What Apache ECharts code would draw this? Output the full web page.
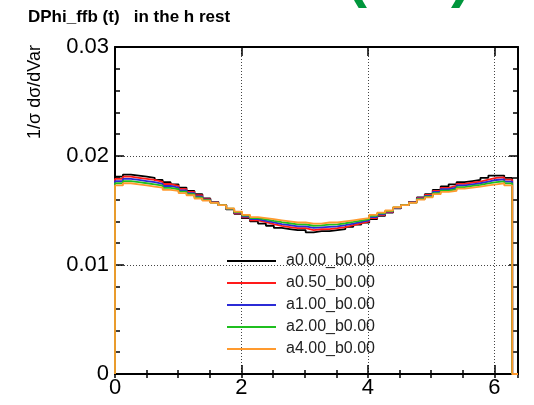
<!DOCTYPE html>
<html>
<head>
<meta charset="utf-8">
<script src="https://cdn.jsdelivr.net/npm/echarts@6/dist/echarts.min.js"></script>
<style>
  html, body { margin: 0; padding: 0; background: #fff; }
  #chart { width: 534px; height: 405px; }
</style>
</head>
<body>
<div id="chart"></div>
<script>
// histogram: 50 bins over 0..2pi
const nBins = 50;
const seriesNames = ['a0.00_b0.00', 'a0.50_b0.00', 'a1.00_b0.00', 'a2.00_b0.00', 'a4.00_b0.00'];
const seriesColors = ['#000000', '#ff1a1a', '#2b2bd6', '#1fbf1f', '#ff9a2e'];

const a000 = [0.0181,0.0183,0.0182,0.0181,0.0180,0.0178,0.0176,0.0174,0.0171,0.0168,
              0.0165,0.0161,0.0158,0.0155,0.0151,0.0147,0.0143,0.0140,0.0138,0.0136,
              0.0134,0.0133,0.0132,0.0132,0.0130,0.0131,0.0131,0.0132,0.0133,0.0135,
              0.0137,0.0139,0.0142,0.0145,0.0148,0.0152,0.0155,0.0158,0.0162,0.0165,
              0.0169,0.0172,0.0174,0.0176,0.0177,0.0178,0.0180,0.0182,0.0182,0.0180];
const a050 = [0.01790,0.01810,0.01800,0.01790,0.01780,0.01763,0.01743,0.01725,0.01698,0.01670,
              0.01640,0.01605,0.01578,0.01550,0.01513,0.01475,0.01438,0.01410,0.01393,0.01375,
              0.01358,0.01348,0.01338,0.01338,0.01320,0.01328,0.01330,0.01338,0.01348,0.01365,
              0.01383,0.01400,0.01430,0.01458,0.01485,0.01523,0.01550,0.01578,0.01615,0.01643,
              0.01680,0.01708,0.01725,0.01745,0.01755,0.01765,0.01783,0.01800,0.01803,0.01783];
const a100 = [0.01770,0.01790,0.01780,0.01770,0.01760,0.01745,0.01725,0.01710,0.01685,0.01660,
              0.01630,0.01600,0.01575,0.01550,0.01515,0.01480,0.01445,0.01420,0.01405,0.01390,
              0.01375,0.01365,0.01355,0.01355,0.01340,0.01345,0.01350,0.01355,0.01365,0.01380,
              0.01395,0.01410,0.01440,0.01465,0.01490,0.01525,0.01550,0.01575,0.01610,0.01635,
              0.01670,0.01695,0.01710,0.01730,0.01740,0.01750,0.01765,0.01780,0.01785,0.01765];
const a200 = [0.01750,0.01770,0.01760,0.01750,0.01740,0.01728,0.01708,0.01695,0.01673,0.01650,
              0.01620,0.01595,0.01573,0.01550,0.01518,0.01485,0.01453,0.01430,0.01418,0.01405,
              0.01393,0.01383,0.01373,0.01373,0.01360,0.01363,0.01370,0.01373,0.01383,0.01395,
              0.01408,0.01420,0.01450,0.01473,0.01495,0.01528,0.01550,0.01573,0.01605,0.01628,
              0.01660,0.01683,0.01695,0.01715,0.01725,0.01735,0.01748,0.01760,0.01768,0.01748];
const a400 = [0.0173,0.0175,0.0174,0.0173,0.0172,0.0171,0.0169,0.0168,0.0166,0.0164,
              0.0161,0.0159,0.0157,0.0155,0.0152,0.0149,0.0146,0.0144,0.0143,0.0142,
              0.0141,0.0140,0.0139,0.0139,0.0138,0.0138,0.0139,0.0139,0.0140,0.0141,
              0.0142,0.0143,0.0146,0.0148,0.0150,0.0153,0.0155,0.0157,0.0160,0.0162,
              0.0165,0.0167,0.0168,0.0170,0.0171,0.0172,0.0173,0.0174,0.0175,0.0173];

const xTickValues = [0, 2, 4, 6];
const xTickLabels = ['0', '2', '4', '6'];
const yTickValues = [0, 0.01, 0.02, 0.03];
const yTickLabels = ['0', '0.01', '0.02', '0.03'];

const X_MAX = 6.375;
const binW = 2 * Math.PI / nBins;
const FONT = '"Liberation Sans", Arial, Helvetica, sans-serif';

function histPoints(vals) {
  const pts = [[0, 0]];
  vals.forEach((v, i) => pts.push([i * binW, v]));
  pts.push([nBins * binW, 0]);
  pts.push([X_MAX, 0]);
  return pts;
}

function pickLabel(values, labels) {
  return function (v) {
    for (let i = 0; i < values.length; i++) {
      if (Math.abs(values[i] - v) < 1e-9) return labels[i];
    }
    return '';
  };
}

const frame = { show: true, onZero: false, lineStyle: { color: '#000', width: 2 } };
const tickStyle = { color: '#000', width: 1.5 };
const dotted = { show: true, lineStyle: { color: '#444', width: 1, type: [1, 2] } };

const allData = [a000, a050, a100, a200, a400];

const option = {
  animation: false,
  backgroundColor: '#fff',
  grid: { left: 115, right: 16, top: 47, bottom: 31 },
  legend: {
    orient: 'vertical',
    left: 227,
    top: 253,
    padding: 0,
    icon: 'rect',
    itemWidth: 49,
    itemHeight: 2,
    itemGap: 6,
    textStyle: { fontSize: 16, color: '#222', fontFamily: FONT, padding: [0, 0, 0, 5] },
    data: seriesNames
  },
  graphic: [
    { type: 'text', left: 28, top: 9,
      style: { text: 'DPhi_ffb (t)   in the h rest', fontSize: 17, fontWeight: 'bold', fill: '#000', font: 'bold 17px ' + FONT } },
    { type: 'text', x: 35, y: 92, rotation: Math.PI / 2,
      style: { text: '1/σ dσ/dVar', font: '18px ' + FONT, fill: '#000', align: 'center', verticalAlign: 'middle' } },
    { type: 'text', x: 357, y: -21,
      style: { text: '(', font: 'bold 60px ' + FONT, fill: '#00963c', align: 'center', verticalAlign: 'middle' } },
    { type: 'text', x: 461, y: -21,
      style: { text: ')', font: 'bold 60px ' + FONT, fill: '#00963c', align: 'center', verticalAlign: 'middle' } }
  ],
  xAxis: [
    { type: 'value', position: 'bottom', min: 0, max: X_MAX, interval: 2,
      axisLine: frame,
      axisTick: { inside: true, length: 9, lineStyle: tickStyle },
      axisLabel: { formatter: pickLabel(xTickValues, xTickLabels), fontSize: 22, color: '#000', fontFamily: FONT, margin: 3, showMaxLabel: false },
      splitLine: dotted },
    { type: 'value', position: 'bottom', min: 0, max: X_MAX, interval: 0.5,
      axisLine: { show: false }, axisLabel: { show: false }, splitLine: { show: false },
      axisTick: { inside: true, length: 4, lineStyle: tickStyle } },
    { type: 'value', position: 'top', min: 0, max: X_MAX, interval: 2,
      axisLine: frame, axisLabel: { show: false }, splitLine: { show: false },
      axisTick: { inside: true, length: 9, lineStyle: tickStyle } },
    { type: 'value', position: 'top', min: 0, max: X_MAX, interval: 0.5,
      axisLine: { show: false }, axisLabel: { show: false }, splitLine: { show: false },
      axisTick: { inside: true, length: 4, lineStyle: tickStyle } }
  ],
  yAxis: [
    { type: 'value', position: 'left', min: 0, max: 0.03, interval: 0.01,
      axisLine: frame,
      axisTick: { inside: true, length: 9, lineStyle: tickStyle },
      minorTick: { show: true, splitNumber: 5, length: 5, lineStyle: tickStyle },
      axisLabel: { formatter: pickLabel(yTickValues, yTickLabels), fontSize: 22, color: '#000', fontFamily: FONT, margin: 6 },
      splitLine: dotted },
    { type: 'value', position: 'right', min: 0, max: 0.03, interval: 0.01,
      axisLine: frame,
      axisTick: { inside: true, length: 9, lineStyle: tickStyle },
      minorTick: { show: true, splitNumber: 5, length: 5, lineStyle: tickStyle },
      axisLabel: { show: false },
      splitLine: { show: false } }
  ],
  series: seriesNames.map((name, k) => ({
    name: name,
    type: 'line',
    step: 'end',
    xAxisIndex: 0,
    yAxisIndex: 0,
    showSymbol: false,
    symbol: 'none',
    color: seriesColors[k],
    lineStyle: { color: seriesColors[k], width: 1.8 },
    data: histPoints(allData[k])
  }))
};

const myChart = echarts.init(document.getElementById('chart'));
myChart.setOption(option);
</script>
</body>
</html>
